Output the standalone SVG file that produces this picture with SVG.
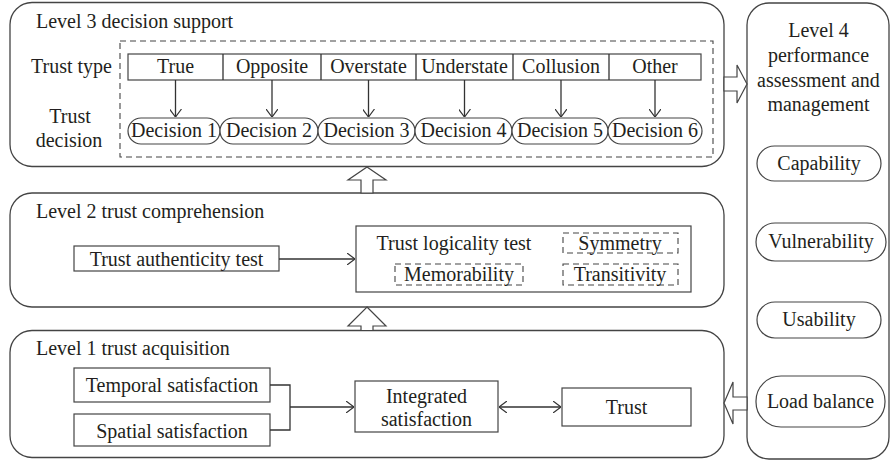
<svg xmlns="http://www.w3.org/2000/svg" width="892" height="462" viewBox="0 0 892 462" font-family="Liberation Serif, serif" font-size="20">
<style>
text{fill:#231f20}
.c{text-anchor:middle}
.box{fill:none;stroke:#444;stroke-width:1.3}
.r{fill:#fff;stroke:#444;stroke-width:1.2}
.d{fill:none;stroke:#444;stroke-width:1.1;stroke-dasharray:6,4}
.ln{fill:none;stroke:#333;stroke-width:1.3}
.blk{fill:#fff;stroke:#444;stroke-width:1.2}
</style>
<defs>
<marker id="ah" viewBox="0 0 8 12" refX="8" refY="6" markerWidth="8" markerHeight="12" markerUnits="userSpaceOnUse" orient="auto-start-reverse">
<path d="M0,0 L8,6 L0,12" fill="none" stroke="#333" stroke-width="1.2"/>
</marker>
</defs>
<rect width="892" height="462" fill="#fff"/>

<g id="level3">
<rect class="box" x="10" y="2.5" width="714" height="164" rx="22"/>
<text x="36" y="28">Level 3 decision support</text>
<rect class="d" x="120" y="41" width="593" height="116"/>
<text x="112" y="73" text-anchor="end">Trust type</text>
<text class="c" x="70" y="123">Trust</text>
<text class="c" x="69" y="147">decision</text>
</g>
<g id="trust-types">
<rect class="r" x="128" y="54" width="573" height="26"/>
<path class="ln" d="M223,54V80M321,54V80M416,54V80M513,54V80M609,54V80" stroke-width="1.1"/>
<text class="c" x="175.5" y="73">True</text>
<text class="c" x="272" y="73">Opposite</text>
<text class="c" x="368.5" y="73">Overstate</text>
<text class="c" x="464.5" y="73">Understate</text>
<text class="c" x="561" y="73">Collusion</text>
<text class="c" x="655" y="73">Other</text>
</g>
<g id="decisions">
<rect class="r" x="128" y="118" width="92" height="26" rx="13"/>
<rect class="r" x="220" y="118" width="98" height="26" rx="13"/>
<rect class="r" x="318" y="118" width="97" height="26" rx="13"/>
<rect class="r" x="415" y="118" width="97" height="26" rx="13"/>
<rect class="r" x="512" y="118" width="96" height="26" rx="13"/>
<rect class="r" x="608" y="118" width="94" height="26" rx="13"/>
<text class="c" x="174" y="137">Decision 1</text>
<text class="c" x="269" y="137">Decision 2</text>
<text class="c" x="366.5" y="137">Decision 3</text>
<text class="c" x="463.5" y="137">Decision 4</text>
<text class="c" x="560" y="137">Decision 5</text>
<text class="c" x="655" y="137">Decision 6</text>
</g>

<g id="level2">
<rect class="box" x="10" y="193" width="714" height="114" rx="22"/>
<text x="36" y="218">Level 2 trust comprehension</text>
</g>
<g id="authenticity">
<rect class="r" x="74" y="246" width="205" height="25"/>
<text class="c" x="176.5" y="266">Trust authenticity test</text>
</g>
<g id="logicality">
<rect class="r" x="356" y="226" width="335" height="66"/>
<text class="c" x="454" y="250">Trust logicality test</text>
<rect class="d" x="563" y="233" width="115" height="20"/>
<text class="c" x="620" y="250">Symmetry</text>
<rect class="d" x="395" y="264" width="128" height="21"/>
<text class="c" x="459" y="281">Memorability</text>
<rect class="d" x="563" y="264" width="115" height="21"/>
<text class="c" x="620" y="281">Transitivity</text>
</g>

<g id="level1">
<rect class="box" x="10" y="330.5" width="714" height="127" rx="22"/>
<text x="36" y="355">Level 1 trust acquisition</text>
</g>
<g id="temporal">
<rect class="r" x="74" y="368" width="196" height="34"/>
<text class="c" x="172" y="392">Temporal satisfaction</text>
</g>
<g id="spatial">
<rect class="r" x="74" y="414" width="196" height="32"/>
<text class="c" x="172" y="438">Spatial satisfaction</text>
</g>
<g id="integrated">
<rect class="r" x="355" y="381" width="143" height="51"/>
<text class="c" x="426.5" y="403">Integrated</text>
<text class="c" x="426.5" y="426">satisfaction</text>
</g>
<g id="trust">
<rect class="r" x="562" y="388" width="129" height="38"/>
<text class="c" x="626.5" y="414">Trust</text>
</g>

<g id="level4">
<rect class="box" x="747" y="3" width="142" height="456" rx="22"/>
<text class="c" x="818.5" y="37">Level 4</text>
<text class="c" x="818.5" y="62">performance</text>
<text class="c" x="818.5" y="87">assessment and</text>
<text class="c" x="818.5" y="111">management</text>
</g>
<g id="capability">
<rect class="r" x="757" y="146" width="124" height="35" rx="17.5"/>
<text class="c" x="819" y="170">Capability</text>
</g>
<g id="vulnerability">
<rect class="r" x="756" y="223" width="130" height="38" rx="19"/>
<text class="c" x="821" y="248">Vulnerability</text>
</g>
<g id="usability">
<rect class="r" x="757" y="302" width="124" height="36" rx="18"/>
<text class="c" x="819" y="326">Usability</text>
</g>
<g id="load-balance">
<rect class="r" x="756" y="376" width="129" height="51" rx="25"/>
<text class="c" x="820.5" y="408">Load balance</text>
</g>

<g id="connectors">
<line class="ln" x1="175.5" y1="80" x2="175.5" y2="117" marker-end="url(#ah)"/>
<line class="ln" x1="272" y1="80" x2="272" y2="117" marker-end="url(#ah)"/>
<line class="ln" x1="368.5" y1="80" x2="368.5" y2="117" marker-end="url(#ah)"/>
<line class="ln" x1="464.5" y1="80" x2="464.5" y2="117" marker-end="url(#ah)"/>
<line class="ln" x1="561" y1="80" x2="561" y2="117" marker-end="url(#ah)"/>
<line class="ln" x1="655" y1="80" x2="655" y2="117" marker-end="url(#ah)"/>
<line class="ln" x1="279" y1="259" x2="355" y2="259" marker-end="url(#ah)"/>
<polyline class="ln" points="270,385 290,385 290,430 270,430"/>
<line class="ln" x1="290" y1="407" x2="354" y2="407" stroke-width="1.8" marker-end="url(#ah)"/>
<line class="ln" x1="499" y1="407" x2="561" y2="407" marker-start="url(#ah)" marker-end="url(#ah)"/>
<polygon class="blk" points="367,167 386,180 373,180 373,193 361,193 361,180 348,180"/>
<polygon class="blk" points="367,307 386,326 373,326 373,330.5 361,330.5 361,326 348,326"/>
<polygon class="blk" points="724,77 737,77 737,65 747,84 737,103 737,91 724,91"/>
<polygon class="blk" points="747,397 733,397 733,382 724,403 733,424 733,410 747,410"/>
</g>
</svg>
